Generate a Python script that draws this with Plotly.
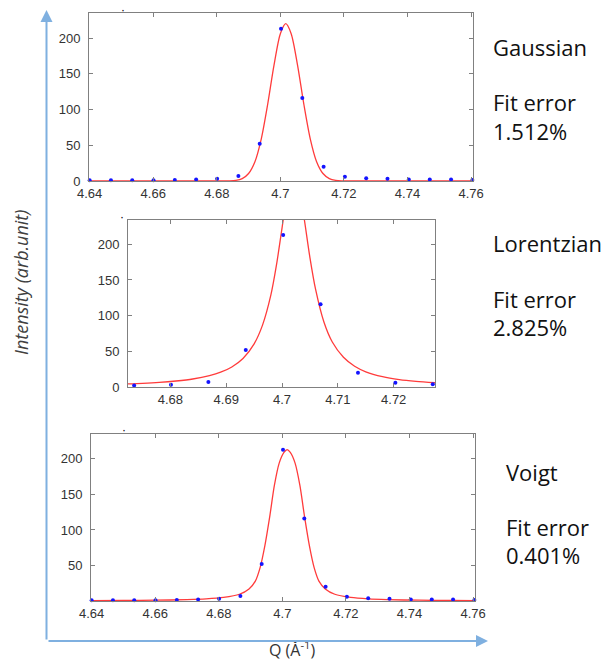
import plotly.graph_objects as go

# ---------------- data ----------------
q_points = [4.6400, 4.6467, 4.6534, 4.6601, 4.6668, 4.6735, 4.6801, 4.6868, 4.6935, 4.7002,
            4.7069, 4.7136, 4.7203, 4.7270, 4.7337, 4.7404, 4.7470, 4.7537, 4.7604]
intensity_points = [1, 1, 1, 1, 1.5, 2, 3, 7, 52, 213, 116, 20, 6, 4, 3, 2, 2, 2, 1.5]

gauss_q = [4.640, 4.670, 4.680, 4.684, 4.6860, 4.6880, 4.6900, 4.6920, 4.6940, 4.6960, 4.6980,
           4.7000, 4.7017, 4.7034, 4.7054, 4.7074, 4.7094, 4.7114, 4.7134, 4.7154, 4.7174,
           4.7194, 4.723, 4.740, 4.760]
gauss_fit = [0, 0, 0, 0.2, 0.9, 3.4, 10.5, 27, 59, 107, 162,
             206, 220, 206, 162, 107, 59, 27, 10.5, 3.4, 0.9,
             0.2, 0, 0, 0]

lorentz_q = [4.6721, 4.675, 4.678, 4.681, 4.684, 4.687, 4.689, 4.691, 4.693, 4.695, 4.6965,
             4.698, 4.699, 4.700, 4.701, 4.7021, 4.703, 4.704, 4.705, 4.706, 4.7075, 4.709,
             4.711, 4.713, 4.715, 4.718, 4.721, 4.724, 4.7275]
lorentz_fit = [4.2, 5.1, 6.4, 8.4, 11.2, 15.9, 20.7, 28.1, 40, 60.5, 86.7,
               129, 171, 223, 274, 300, 282, 234, 181, 137, 91, 63,
               41.6, 29, 21.3, 14.4, 10.3, 7.8, 5.9]

voigt_q = [4.640, 4.650, 4.660, 4.670, 4.676, 4.6815, 4.6865, 4.6895, 4.6915, 4.6930, 4.6945,
           4.6960, 4.6975, 4.6990, 4.7005, 4.7015, 4.7025, 4.7040, 4.7055, 4.7070, 4.7085,
           4.7100, 4.7115, 4.7135, 4.7165, 4.7215, 4.727, 4.733, 4.743, 4.753, 4.761]
voigt_fit = [0.5, 0.7, 1.1, 1.9, 2.9, 5, 9.5, 17, 28, 47, 78,
             118, 163, 194, 209, 213, 209, 194, 163, 118, 78,
             47, 28, 17, 9.5, 5, 2.9, 1.9, 1.1, 0.7, 0.5]

x_ticks_wide = [4.64, 4.66, 4.68, 4.70, 4.72, 4.74, 4.76]
x_ticktext_wide = ["4.64", "4.66", "4.68", "4.7", "4.72", "4.74", "4.76"]
x_ticks_narrow = [4.68, 4.69, 4.70, 4.71, 4.72]
x_ticktext_narrow = ["4.68", "4.69", "4.7", "4.71", "4.72"]
y_ticks_full = [0, 50, 100, 150, 200]
y_ticks_voigt = [50, 100, 150, 200]

labels = ["Gaussian", "Lorentzian", "Voigt"]
fit_errors = ["1.512%", "2.825%", "0.401%"]

# ---------------- figure ----------------
W, H = 606, 661
RED = "#ff3b3b"
BLUE = "#1414ff"

fig = go.Figure()

panels = [
    ("x", "y", gauss_q, gauss_fit, q_points, intensity_points),
    ("x2", "y2", lorentz_q, lorentz_fit, q_points, intensity_points),
    ("x3", "y3", voigt_q, voigt_fit, q_points, intensity_points),
]
for xa, ya, cq, cy, pq, py in panels:
    fig.add_trace(go.Scatter(x=cq, y=cy, mode="lines", xaxis=xa, yaxis=ya,
                             line=dict(color=RED, width=1.3, shape="spline", smoothing=0.8),
                             showlegend=False, hoverinfo="skip"))
    fig.add_trace(go.Scatter(x=pq, y=py, mode="markers", xaxis=xa, yaxis=ya,
                             marker=dict(color=BLUE, size=4), cliponaxis=False,
                             showlegend=False))


def px_x(p):
    return p / W


def px_y(p):
    return 1 - p / H


axis_common = dict(showline=True, linecolor="#808080", linewidth=1, mirror="ticks",
                   ticks="inside", ticklen=4, tickcolor="#808080", showgrid=False,
                   zeroline=False, automargin=False,
                   tickfont=dict(family="Liberation Sans", size=13, color="#333333"))
xa_common = dict(ticklabelstandoff=0, **axis_common)
ya_common = dict(ticklabelstandoff=5, **axis_common)

fig.update_layout(
    width=W, height=H, margin=dict(l=0, r=0, t=0, b=0, autoexpand=False),
    paper_bgcolor="white", plot_bgcolor="white", showlegend=False,
    xaxis=dict(domain=[px_x(89), px_x(473)], anchor="y", range=[4.6398, 4.7606],
               tickmode="array", tickvals=x_ticks_wide, ticktext=x_ticktext_wide, **xa_common),
    yaxis=dict(domain=[px_y(181), px_y(13)], anchor="x", range=[0, 235],
               tickmode="array", tickvals=y_ticks_full, **ya_common),
    xaxis2=dict(domain=[px_x(128), px_x(435)], anchor="y2", range=[4.6724, 4.7274],
                tickmode="array", tickvals=x_ticks_narrow, ticktext=x_ticktext_narrow, **xa_common),
    yaxis2=dict(domain=[px_y(387), px_y(220)], anchor="x2", range=[0, 234],
                tickmode="array", tickvals=y_ticks_full, **ya_common),
    xaxis3=dict(domain=[px_x(91), px_x(475)], anchor="y3", range=[4.6398, 4.7606],
                tickmode="array", tickvals=x_ticks_wide, ticktext=x_ticktext_wide, **xa_common),
    yaxis3=dict(domain=[px_y(601), px_y(434)], anchor="x3", range=[0, 235],
                tickmode="array", tickvals=y_ticks_voigt, **ya_common),
)

ann_font = dict(family="Open Sans", size=22, color="#111111")
text_pos = [(491, 47, 102, 131), (491, 243, 299, 327), (504, 472, 527, 555)]
annotations = []
for lab, err, (xp, y1, y2, y3) in zip(labels, fit_errors, text_pos):
    for txt, yp in ((lab, y1), ("Fit error", y2), (err, y3)):
        annotations.append(dict(x=px_x(xp), y=px_y(yp), xref="paper", yref="paper",
                                text=txt, showarrow=False, xanchor="left", yanchor="middle",
                                font=ann_font))

# axis titles
annotations.append(dict(x=px_x(21), y=px_y(283), xref="paper", yref="paper",
                        text="<i>Intensity (arb.unit)</i>", textangle=-90, showarrow=False,
                        xanchor="center", yanchor="middle",
                        font=dict(family="Open Sans", size=18, color="#404040")))
annotations.append(dict(x=px_x(292), y=px_y(649), xref="paper", yref="paper",
                        text="Q (Ǎ<sup>-1</sup>)", showarrow=False,
                        xanchor="center", yanchor="middle",
                        font=dict(family="Open Sans", size=16, color="#333333")))

# small stray dots visible in the original figure
for dx, dy in ((123, 10), (122, 217), (124, 430)):
    annotations.append(dict(x=px_x(dx), y=px_y(dy), xref="paper", yref="paper",
                            text="·", showarrow=False, xanchor="center", yanchor="middle",
                            font=dict(family="Liberation Sans", size=12, color="#000000")))

# blue frame arrows
ARROW = "#7fb0e0"
annotations.append(dict(x=px_x(46.5), y=px_y(10), xref="paper", yref="paper", text="",
                        showarrow=True, ax=0, ay=631, arrowcolor=ARROW, arrowwidth=2,
                        arrowhead=2, arrowsize=1.2, standoff=0))
annotations.append(dict(x=px_x(488), y=px_y(641), xref="paper", yref="paper", text="",
                        showarrow=True, ax=-441, ay=0, arrowcolor=ARROW, arrowwidth=2,
                        arrowhead=2, arrowsize=1.2, standoff=0))

fig.update_layout(annotations=annotations)

fig.write_html("out.html",
               post_script="document.body.style.margin='0';document.body.style.padding='0';"
                           "document.documentElement.style.overflow='hidden';")
